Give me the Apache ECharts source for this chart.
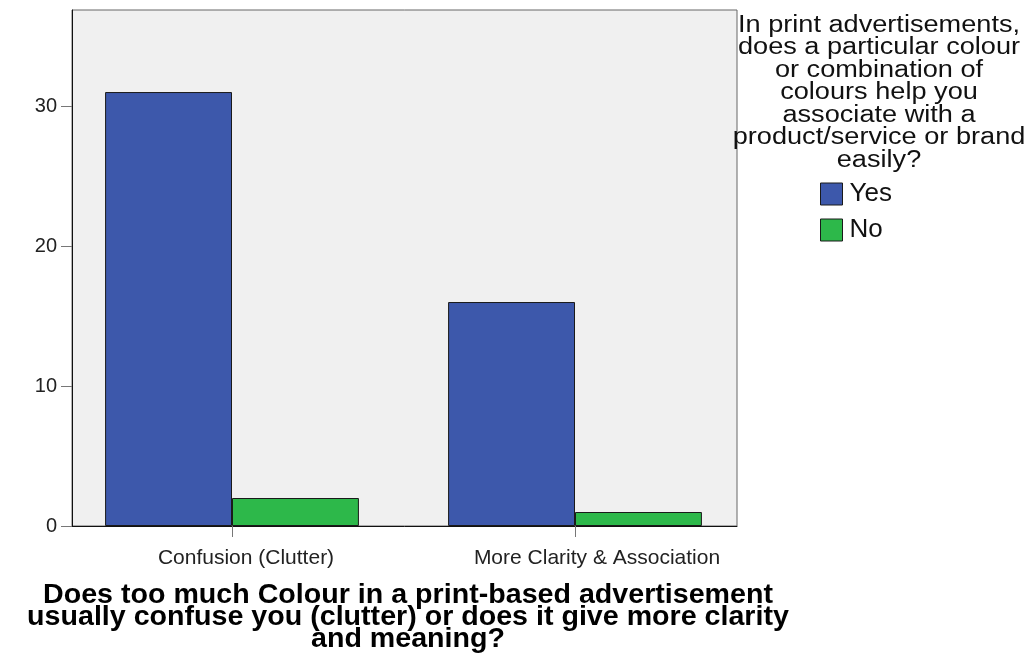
<!DOCTYPE html>
<html>
<head>
<meta charset="utf-8">
<script src="https://cdn.jsdelivr.net/npm/echarts@6/dist/echarts.min.js"></script>
<style>
  html, body { margin: 0; padding: 0; background: #ffffff; }
  #chart { width: 1033px; height: 658px; }
</style>
</head>
<body>
<div id="chart"></div>
<script>
// Answer categories on the x axis
const categories = ['Confusion (Clutter)', 'More Clarity & Association'];
// Counts per answer to the colour-association question
const yesCounts = [31, 16];
const noCounts = [2, 1];
const seriesNames = ['Yes', 'No'];
// Value axis ticks
const yTicks = [0, 10, 20, 30];

const xTitle = 'Does too much Colour in a print-based advertisement\nusually confuse you (clutter) or does it give more clarity\nand meaning?';
const legendTitle = 'In print advertisements,\ndoes a particular colour\nor combination of\ncolours help you\nassociate with a\nproduct/service or brand\neasily?';

const FONT = '"Liberation Sans", Arial, sans-serif';
const yMax = 36.86;

const chart = echarts.init(document.getElementById('chart'), null, { renderer: 'canvas' });

chart.setOption({
  animation: false,
  backgroundColor: '#ffffff',
  grid: [
    // plot frame with grey background
    { left: 72, top: 10, right: 296, bottom: 132, show: true,
      backgroundColor: '#f0f0f0', borderColor: '#666666', borderWidth: 1 },
    // band layout for the bars
    { left: 60.5, top: 10, right: 286.5, bottom: 132 }
  ],
  xAxis: [
    { gridIndex: 0, type: 'value', min: 0, max: 1,
      axisLine: { show: true, lineStyle: { color: '#111111', width: 1 } },
      axisTick: { show: false }, axisLabel: { show: false }, splitLine: { show: false } },
    { gridIndex: 1, type: 'category', data: categories,
      axisLine: { show: false },
      axisTick: { show: true, interval: 0, alignWithLabel: true, length: 11, lineStyle: { color: '#777777' } },
      axisLabel: {
        interval: 0, margin: 22, color: '#222222', fontFamily: FONT, fontSize: 21,
        formatter: (v) => (v === categories[0] ? '{a|' + v + '}' : '{b|' + v + '}'),
        rich: {
          a: { fontFamily: FONT, fontSize: 21, color: '#222222', padding: [0, 0, 0, 28] },
          b: { fontFamily: FONT, fontSize: 21, color: '#222222', padding: [0, 0, 0, 44] }
        }
      },
      splitLine: { show: false } }
  ],
  yAxis: [
    { gridIndex: 0, type: 'value', min: 0, max: yMax, interval: 10,
      axisLine: { show: true, lineStyle: { color: '#111111', width: 1 } },
      axisTick: { show: true, length: 11, lineStyle: { color: '#777777' }, customValues: yTicks },
      axisLabel: { margin: 15, color: '#222222', fontFamily: FONT, fontSize: 20, customValues: yTicks },
      splitLine: { show: false } },
    { gridIndex: 1, type: 'value', min: 0, max: yMax, show: false }
  ],
  legend: {
    data: seriesNames,
    orient: 'vertical',
    left: 820, top: 181, padding: 0,
    itemWidth: 22, itemHeight: 22, itemGap: 10,
    icon: 'rect',
    itemStyle: { borderColor: '#1a1a1a', borderWidth: 1 },
    textStyle: { fontFamily: FONT, fontSize: 26, color: '#111111', lineHeight: 22, padding: [0, 0, 0, 2] }
  },
  graphic: [
    { type: 'text', x: 879, y: 93, scaleX: 1.18, silent: true,
      style: { text: legendTitle, font: '23px ' + FONT, fill: '#111111',
               align: 'center', verticalAlign: 'middle', lineHeight: 22.5 } },
    { type: 'text', x: 408, y: 618, scaleX: 1.06, silent: true,
      style: { text: xTitle, font: 'bold 27px ' + FONT, fill: '#000000',
               align: 'center', verticalAlign: 'middle', lineHeight: 22 } }
  ],
  series: [
    { name: seriesNames[0], type: 'bar', xAxisIndex: 1, yAxisIndex: 1, data: yesCounts,
      barGap: '0%', barCategoryGap: '26%',
      itemStyle: { color: '#3d58ab', borderColor: '#1a1a1a', borderWidth: 1 } },
    { name: seriesNames[1], type: 'bar', xAxisIndex: 1, yAxisIndex: 1, data: noCounts,
      barGap: '0%', barCategoryGap: '26%',
      itemStyle: { color: '#2db84a', borderColor: '#1a1a1a', borderWidth: 1 } }
  ]
});
</script>
</body>
</html>
